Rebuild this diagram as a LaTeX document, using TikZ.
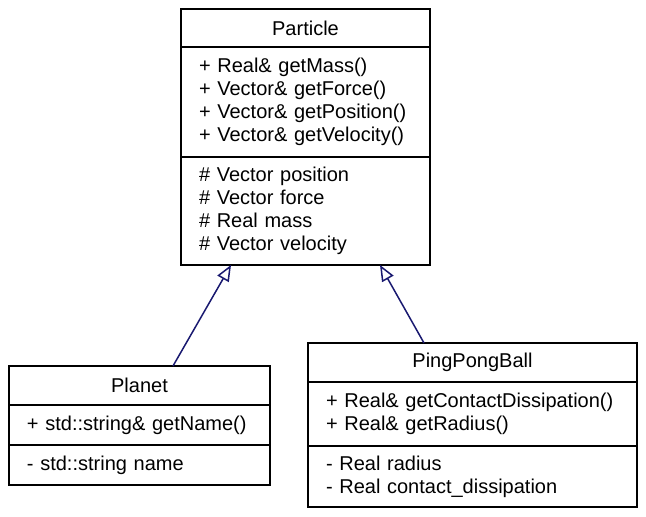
\documentclass[tikz,border=0pt]{standalone}
\usepackage{fontspec}
\setmainfont{Liberation Sans}
\usepackage{xcolor}
\usepackage{tikz}
\usetikzlibrary{arrows.meta}
\definecolor{edgeblue}{HTML}{191970}
\newcommand{\umlfont}{\fontsize{20pt}{23pt}\selectfont}
\tikzset{
umlpart/.style={draw,line width=1.3pt,anchor=north west,inner xsep=18pt,inner ysep=0pt,outer sep=0pt,align=left,font=\umlfont},
umltitle/.style={umlpart,align=center},
inherit/.style={edgeblue,line width=1.5pt,-{Triangle[open,length=16pt,width=13pt,line width=1.5pt]}}
}
\begin{document}
\begin{tikzpicture}[x=1pt,y=-1pt]
\useasboundingbox (0,0) rectangle (646,517);
% base class
\node[umltitle,text width=213pt,minimum height=38pt](particle) at (181,9) {Particle};
\node[umlpart,text width=213pt,minimum height=110pt](particleops) at (particle.south west)
{+ Real\& getMass()\\+ Vector\& getForce()\\+ Vector\& getPosition()\\+ Vector\& getVelocity()};
\node[umlpart,text width=213pt,minimum height=108pt](particleattr) at (particleops.south west)
{\# Vector position\\\# Vector force\\\# Real mass\\\# Vector velocity};
% derived classes
\node[umltitle,text width=225pt,minimum height=39pt](planet) at (9,366) {Planet};
\node[umlpart,text width=225pt,minimum height=40pt](planetops) at (planet.south west)
{+ std::string\& getName()};
\node[umlpart,text width=225pt,minimum height=40pt](planetattr) at (planetops.south west)
{- std::string name};
\node[umltitle,text width=293pt,minimum height=39pt](pingpong) at (308,343) {PingPongBall};
\node[umlpart,text width=293pt,minimum height=64pt](pingpongops) at (pingpong.south west)
{+ Real\& getContactDissipation()\\+ Real\& getRadius()};
\node[umlpart,text width=293pt,minimum height=61pt](pingpongattr) at (pingpongops.south west)
{- Real radius\\- Real contact\_dissipation};
% inheritance
\draw[inherit]([xshift=33.5pt]planet.north)--([xshift=-74.5pt]particleattr.south);
\draw[inherit]([xshift=-48.5pt]pingpong.north)--([xshift=74.5pt]particleattr.south);
\end{tikzpicture}
\end{document}
